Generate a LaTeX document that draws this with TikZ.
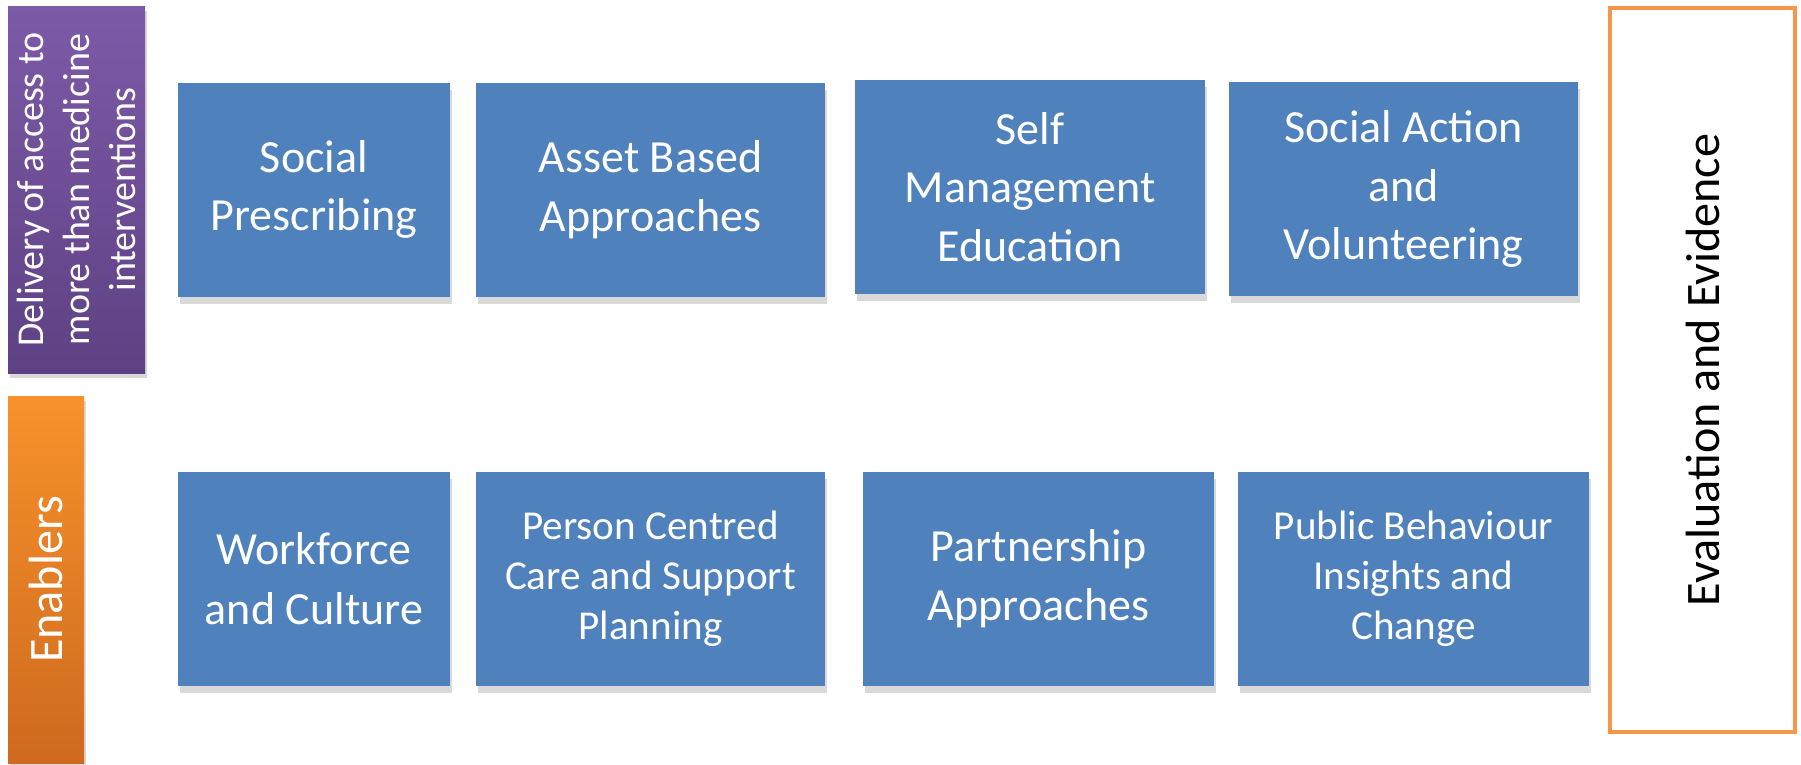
\documentclass[tikz,border=0pt]{standalone}
\usepackage{fontspec}
\setmainfont{Carlito}
\usepackage{tikz}
\usetikzlibrary{shadows}

\definecolor{tileblue}{HTML}{4F81BD}
\definecolor{purpletop}{HTML}{7D5AA8}
\definecolor{purplebot}{HTML}{5E4183}
\definecolor{orangetop}{HTML}{F7922B}
\definecolor{orangebot}{HTML}{CE691F}
\definecolor{evalorange}{HTML}{F79646}

\begin{document}
\begin{tikzpicture}
\tikzstyle{tile}=[fill=tileblue,text=white,align=center,inner sep=0pt,minimum height=2.14cm,
  drop shadow={shadow xshift=0.6pt,shadow yshift=-2pt,opacity=0.3}];
\tikzstyle{bigtext}=[font=\fontsize{13.1}{16.7}\selectfont];
\tikzstyle{smalltext}=[font=\fontsize{11.7}{14.2}\selectfont];
\tikzstyle{sidebar}=[rotate=90,text=white,align=center,inner sep=0pt,
  drop shadow={shadow xshift=0.6pt,shadow yshift=-1.5pt,opacity=0.3}];
\useasboundingbox (0,0) rectangle (18.01,-7.65);

% left bars
\node[sidebar,top color=purpletop,bottom color=purplebot,shading angle=0,
  minimum width=3.67cm,minimum height=1.37cm,font=\fontsize{10.8}{13.1}\selectfont]
  (delivery) at (0.765,-1.895) {Delivery of access to\\more than medicine\\interventions};
\node[sidebar,top color=orangetop,bottom color=orangebot,
  minimum width=3.67cm,minimum height=0.76cm,font=\fontsize{13.7}{16}\selectfont]
  (enablers) at (0.46,-5.795) {Enablers};

% top row
\node[tile,bigtext,minimum width=2.72cm] (social) at (3.14,-1.895) {Social\\Prescribing};
\node[tile,bigtext,minimum width=3.49cm] (asset) at (6.505,-1.895) {Asset Based\\Approaches};
\node[tile,bigtext,minimum width=3.50cm] (selfman) at (10.30,-1.87) {Self\\Management\\Education};
\node[tile,bigtext,minimum width=3.49cm] (action) at (14.035,-1.89) {Social Action\\and\\Volunteering};

% bottom row
\node[tile,font=\fontsize{13.1}{17.2}\selectfont,minimum width=2.72cm] (workforce) at (3.14,-5.785) {Workforce\\and Culture};
\node[tile,smalltext,minimum width=3.49cm] (person) at (6.505,-5.785) {Person Centred\\Care and Support\\Planning};
\node[tile,bigtext,minimum width=3.51cm] (partner) at (10.385,-5.785) {Partnership\\Approaches};
\node[tile,smalltext,minimum width=3.51cm] (public) at (14.135,-5.785) {Public Behaviour\\Insights and\\Change};

% right box
\node[draw=evalorange,line width=1.1pt,rotate=90,minimum width=7.24cm,minimum height=1.85cm,
  font=\fontsize{13.7}{16}\selectfont] (evaluation) at (17.025,-3.70) {Evaluation and Evidence};
\end{tikzpicture}
\end{document}
